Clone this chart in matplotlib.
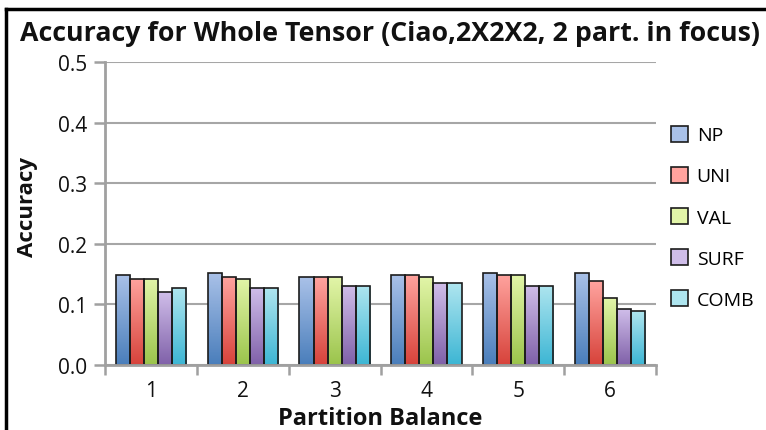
import numpy as np
import matplotlib
matplotlib.use('Agg')
import matplotlib.pyplot as plt
from matplotlib.colors import LinearSegmentedColormap
from matplotlib.patches import Patch
from matplotlib.lines import Line2D

# data
balances = ['1', '2', '3', '4', '5', '6']
series = ['NP', 'UNI', 'VAL', 'SURF', 'COMB']
np_vals = [0.149, 0.152, 0.145, 0.149, 0.152, 0.152]
uni_vals = [0.142, 0.145, 0.145, 0.149, 0.149, 0.138]
val_vals = [0.142, 0.142, 0.145, 0.145, 0.149, 0.110]
surf_vals = [0.120, 0.127, 0.131, 0.135, 0.131, 0.092]
comb_vals = [0.127, 0.127, 0.131, 0.135, 0.131, 0.089]
yticks = [0.0, 0.1, 0.2, 0.3, 0.4, 0.5]

values = [np_vals, uni_vals, val_vals, surf_vals, comb_vals]
# (top colour, bottom colour) for the gradient fill
colors = [('#a9c1e8', '#4a7ebb'),
          ('#ffa39e', '#d7433b'),
          ('#e2f5a8', '#9bc44c'),
          ('#cfbde9', '#8061a9'),
          ('#aee5ef', '#3db6d4')]

plt.rcParams['font.family'] = ['Open Sans', 'DejaVu Sans']

fig = plt.figure(figsize=(7.66, 4.31), dpi=100)
ax = fig.add_axes([105 / 766, 65 / 431, 551 / 766, 303 / 431])

x = np.arange(len(balances))
width = 0.153
for i, (name, vals) in enumerate(zip(series, values)):
    pos = x + (i - 2) * width
    bars = ax.bar(pos, vals, width, color='none', edgecolor='#1c1c1c',
                  linewidth=1.2, zorder=3)
    cmap = LinearSegmentedColormap.from_list(name, [colors[i][1], colors[i][0]])
    grad = np.linspace(0, 1, 64).reshape(-1, 1)
    for b in bars:
        bx, by = b.get_x(), b.get_y()
        im = ax.imshow(grad, cmap=cmap, origin='lower', aspect='auto',
                       extent=[bx, bx + b.get_width(), by, by + b.get_height()],
                       zorder=2)
        im.set_clip_path(b)

ax.set_xlim(-0.5, len(balances) - 0.5)
ax.set_ylim(0, 0.5)
ax.set_yticks(yticks)
ax.set_yticklabels(['%.1f' % t for t in yticks], fontsize=15, color='#111111')
ax.yaxis.grid(True, color='#a6a6a6', linewidth=1.5, zorder=0)

# category boundaries get the tick marks, labels sit in the middle
ax.set_xticks(np.arange(len(balances) + 1) - 0.5)
ax.set_xticklabels([])
ax.set_xticks(x, minor=True)
ax.set_xticklabels(balances, minor=True, fontsize=15, color='#111111')
ax.tick_params(axis='x', which='major', direction='out', length=7, width=1.8,
               color='#a0a0a0')
ax.tick_params(axis='x', which='minor', length=0, pad=11)
ax.tick_params(axis='y', direction='out', length=8, width=1.8, color='#a0a0a0',
               pad=5)

for side in ['top', 'right']:
    ax.spines[side].set_visible(False)
for side in ['left', 'bottom']:
    ax.spines[side].set_color('#a0a0a0')
    ax.spines[side].set_linewidth(2)
    ax.spines[side].set_zorder(4)

fig.text(390 / 766, 1 - 40.7 / 431, 'Accuracy for Whole Tensor (Ciao,2X2X2, 2 part. in focus)',
         ha='center', va='baseline', fontsize=19.3, fontweight='bold', color='#111111')
fig.text(28 / 766, 1 - 207 / 431, 'Accuracy', rotation=90, ha='center', va='center',
         fontsize=16, fontweight='bold', color='#111111')
fig.text(380 / 766, 1 - 425 / 431, 'Partition Balance', ha='center', va='baseline',
         fontsize=17, fontweight='bold', color='#111111')

handles = [Patch(facecolor=c[0], edgecolor='#1c1c1c', linewidth=1.2) for c in colors]
fig.legend(handles, series, loc='upper left', bbox_to_anchor=(653 / 766, 1 - 109 / 431),
           frameon=False, fontsize=14, handlelength=0.9, handleheight=0.9,
           handletextpad=0.45, labelspacing=1.15)

# chart border (the right and bottom edges are cut off in the reference)
fig.add_artist(Line2D([6 / 766, 1], [1 - 10 / 431, 1 - 10 / 431], color='black', lw=2.5))
fig.add_artist(Line2D([6 / 766, 6 / 766], [0, 1 - 10 / 431], color='black', lw=2.5))

fig.savefig('out.png', dpi=100)
